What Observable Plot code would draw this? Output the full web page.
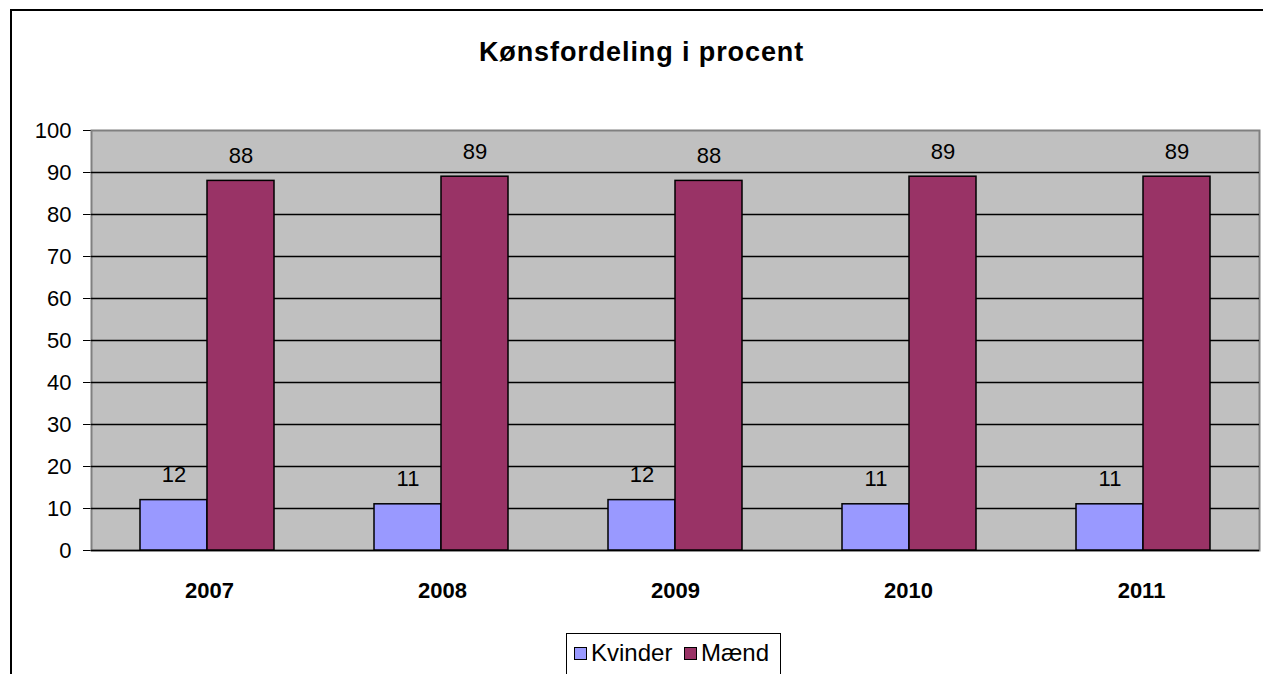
<!DOCTYPE html>
<html>
<head>
<meta charset="utf-8">
<script src="https://cdn.jsdelivr.net/npm/d3@7"></script>
<script src="https://cdn.jsdelivr.net/npm/@observablehq/plot@0.6"></script>
<style>
  html, body { margin: 0; padding: 0; background: white; overflow: hidden; }
  body { width: 1263px; height: 674px; position: relative; font-family: "Liberation Sans", Arial, sans-serif; }
  #border { position: absolute; left: 10px; top: 9px; width: 1300px; height: 700px; border-left: 2px solid black; border-top: 2px solid black; }
  #title { position: absolute; left: 0; width: 1283px; top: 37px; text-align: center; font-weight: bold; font-size: 27px; letter-spacing: 0.9px; }
  .layer { position: absolute; left: 0; top: 0; }
  #legend { position: absolute; left: 566px; top: 633px; width: 213px; height: 50px; border: 1px solid black; background: white; font-size: 24px; }
  #legend .item { position: absolute; top: 5px; display: flex; align-items: center; }
  #legend .sw { width: 11px; height: 11px; border: 1.5px solid black; margin-right: 4px; }
  svg [aria-label^="x-axis"] text { font-weight: bold; }
</style>
</head>
<body>
<div id="border"></div>
<div id="title">Kønsfordeling i procent</div>
<div id="back" class="layer"></div>
<div id="front" class="layer"></div>
<div id="legend"></div>
<script>
const years = ["2007", "2008", "2009", "2010", "2011"];
const series = ["Kvinder", "Mænd"];
const kvinder = [12, 11, 12, 11, 11];
const maend = [88, 89, 88, 89, 89];
const colors = ["#9999FF", "#993366"];
const yTicks = [0, 10, 20, 30, 40, 50, 60, 70, 80, 90, 100];
const gridTicks = [10, 20, 30, 40, 50, 60, 70, 80, 90];

const data = years.flatMap((y, i) => [
  {year: y, sex: series[0], value: kvinder[i]},
  {year: y, sex: series[1], value: maend[i]}
]);

const common = {
  width: 1263,
  height: 674,
  marginLeft: 91,
  marginRight: 4,
  marginTop: 130,
  marginBottom: 124,
  style: {fontFamily: "'Liberation Sans', Arial, sans-serif", fontSize: "22px", color: "black", background: "transparent"}
};
const bandPad = {paddingInner: 0.426, paddingOuter: 0.205};

// Background layer: plot area, gridlines and axes
const back = Plot.plot({
  ...common,
  x: {domain: years, ...bandPad, tickSize: 0, tickPadding: 32, label: null},
  y: {domain: [0, 100], ticks: yTicks, tickSize: 8, tickPadding: 12, label: null, line: true},
  marks: [
    Plot.frame({fill: "#C0C0C0", stroke: "#808080", strokeWidth: 2}),
    Plot.ruleY(gridTicks, {stroke: "black", strokeWidth: 1.6}),
    Plot.ruleY([0], {stroke: "black", strokeWidth: 1.6})
  ]
});
document.getElementById("back").appendChild(back);

// Foreground layer: grouped bars via facets by year
const front = Plot.plot({
  ...common,
  facet: {data: data, x: "year"},
  fx: {domain: years, ...bandPad, axis: null, label: null},
  x: {domain: series, padding: 0, axis: null},
  y: {domain: [0, 100], axis: null},
  color: {domain: series, range: colors},
  marks: [
    Plot.barY(data, {x: "sex", y: "value", fill: "sex", stroke: "black", strokeWidth: 1.5}),
    Plot.text(data, {x: "sex", y: "value", text: d => String(d.value), lineAnchor: "bottom", dy: -18, fontSize: 22})
  ]
});
document.getElementById("front").appendChild(front);

const legend = document.getElementById("legend");
const lx = [7, 117];
series.forEach((s, i) => {
  const item = document.createElement("div");
  item.className = "item";
  item.style.left = lx[i] + "px";
  const sw = document.createElement("div");
  sw.className = "sw";
  sw.style.background = colors[i];
  const t = document.createElement("span");
  t.textContent = s;
  item.appendChild(sw);
  item.appendChild(t);
  legend.appendChild(item);
});
</script>
</body>
</html>
